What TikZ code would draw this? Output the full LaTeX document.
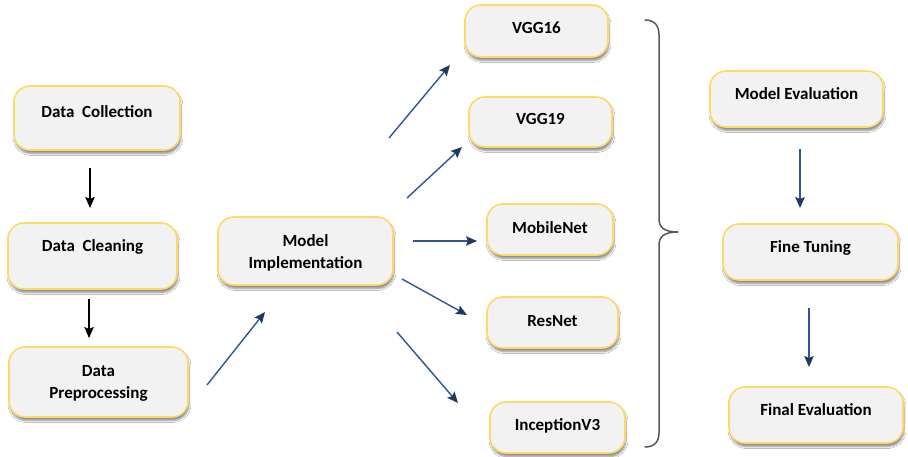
\documentclass[tikz,border=0pt]{standalone}
\usepackage{fontspec}
\setmainfont{Carlito}
\usetikzlibrary{arrows.meta,shadows.blur}

\definecolor{boxfill}{HTML}{F2F2F2}
\definecolor{boxedge}{HTML}{FFD966}
\definecolor{flowblue}{HTML}{2F5597}
\definecolor{headblue}{HTML}{1F3864}
\definecolor{bracegray}{HTML}{595959}

\tikzset{
  stagebox/.style={draw=boxedge, line width=1.6pt, fill=boxfill,
    rounded corners=16pt, inner sep=0pt,
    blur shadow={shadow xshift=1pt, shadow yshift=-3.5pt,
      shadow blur steps=6, shadow opacity=45}},
  stagetext/.style={font=\fontsize{17}{22}\selectfont\bfseries,
    align=center, inner sep=0pt, text=black},
  blackflow/.style={line width=1.4pt, black,
    -{Stealth[length=11pt, width=9.5pt, inset=2pt]}},
  blueflow/.style={line width=1.4pt, flowblue,
    -{Stealth[length=11pt, width=9.5pt, inset=2pt, color=headblue]}},
  bracepath/.style={line width=1.5pt, bracegray, line cap=round}
}

\newcommand{\stage}[7]{%
  % #1 name, #2 x, #3 y, #4 width, #5 height, #6 text y, #7 text
  \node[stagebox, minimum width=#4pt, minimum height=#5pt] (#1) at (#2,#3) {};
  \node[stagetext] (#1-t) at (#2,#6) {#7};
}

\begin{document}
\begin{tikzpicture}[x=1pt, y=-1pt]
  \useasboundingbox[fill=white] (0,0) rectangle (908,457);

  % data pipeline
  \stage{collect}{97}{118}{166}{64}{112}{Data\hspace{0.45em}Collection}
  \stage{clean}{92.5}{256}{169}{66}{247}{Data\hspace{0.45em}Cleaning}
  \stage{prep}{98.5}{382}{179}{70}{383}{Data\\Preprocessing}
  \stage{impl}{305.5}{251}{175}{68}{253}{Model\\Implementation}

  % candidate networks
  \stage{vgg16}{536.5}{31}{143}{52}{28}{VGG16}
  \stage{vgg19}{540.5}{122}{143}{50}{119}{VGG19}
  \stage{mobile}{550}{229.5}{126}{51}{228}{MobileNet}
  \stage{resnet}{552.5}{322.5}{131}{51}{321}{ResNet}
  \stage{incep}{557.5}{427.5}{135}{51}{426}{InceptionV3}

  % evaluation stages
  \stage{meval}{796.5}{99}{173}{56}{94}{Model Evaluation}
  \stage{tune}{810.5}{252}{175}{56}{248}{Fine Tuning}
  \stage{feval}{816}{415}{174}{56}{410}{Final Evaluation}

  % arrow end points (the arrows float between the boxes)
  \coordinate (a1s) at (90,168);   \coordinate (a1e) at (90,208);
  \coordinate (a2s) at (89,299);   \coordinate (a2e) at (89,338);
  \coordinate (a3s) at (207,385);  \coordinate (a3e) at (265,312);
  \coordinate (b1s) at (389,138);  \coordinate (b1e) at (450,65);
  \coordinate (b2s) at (407,198);  \coordinate (b2e) at (462,147);
  \coordinate (b3s) at (413,241);  \coordinate (b3e) at (477,241);
  \coordinate (b4s) at (402,279);  \coordinate (b4e) at (467,315);
  \coordinate (b5s) at (397,332);  \coordinate (b5e) at (458,403);
  \coordinate (c1s) at (800,149);  \coordinate (c1e) at (800,208);
  \coordinate (c2s) at (809,308);  \coordinate (c2e) at (809,367);

  \draw[blackflow] (a1s) -- (a1e);
  \draw[blackflow] (a2s) -- (a2e);
  \draw[blueflow] (a3s) -- (a3e);
  \draw[blueflow] (b1s) -- (b1e);
  \draw[blueflow] (b2s) -- (b2e);
  \draw[blueflow] (b3s) -- (b3e);
  \draw[blueflow] (b4s) -- (b4e);
  \draw[blueflow] (b5s) -- (b5e);
  \draw[blueflow] (c1s) -- (c1e);
  \draw[blueflow] (c2s) -- (c2e);

  % curly brace grouping the networks
  \draw[bracepath] (645,20) .. controls (654,20) and (659,25) .. (659,35)
    -- (659,219) .. controls (659,228) and (665,232) .. (678,232)
    .. controls (665,232) and (659,236) .. (659,245)
    -- (659,433) .. controls (659,442) and (654,447) .. (645,447);
\end{tikzpicture}
\end{document}
